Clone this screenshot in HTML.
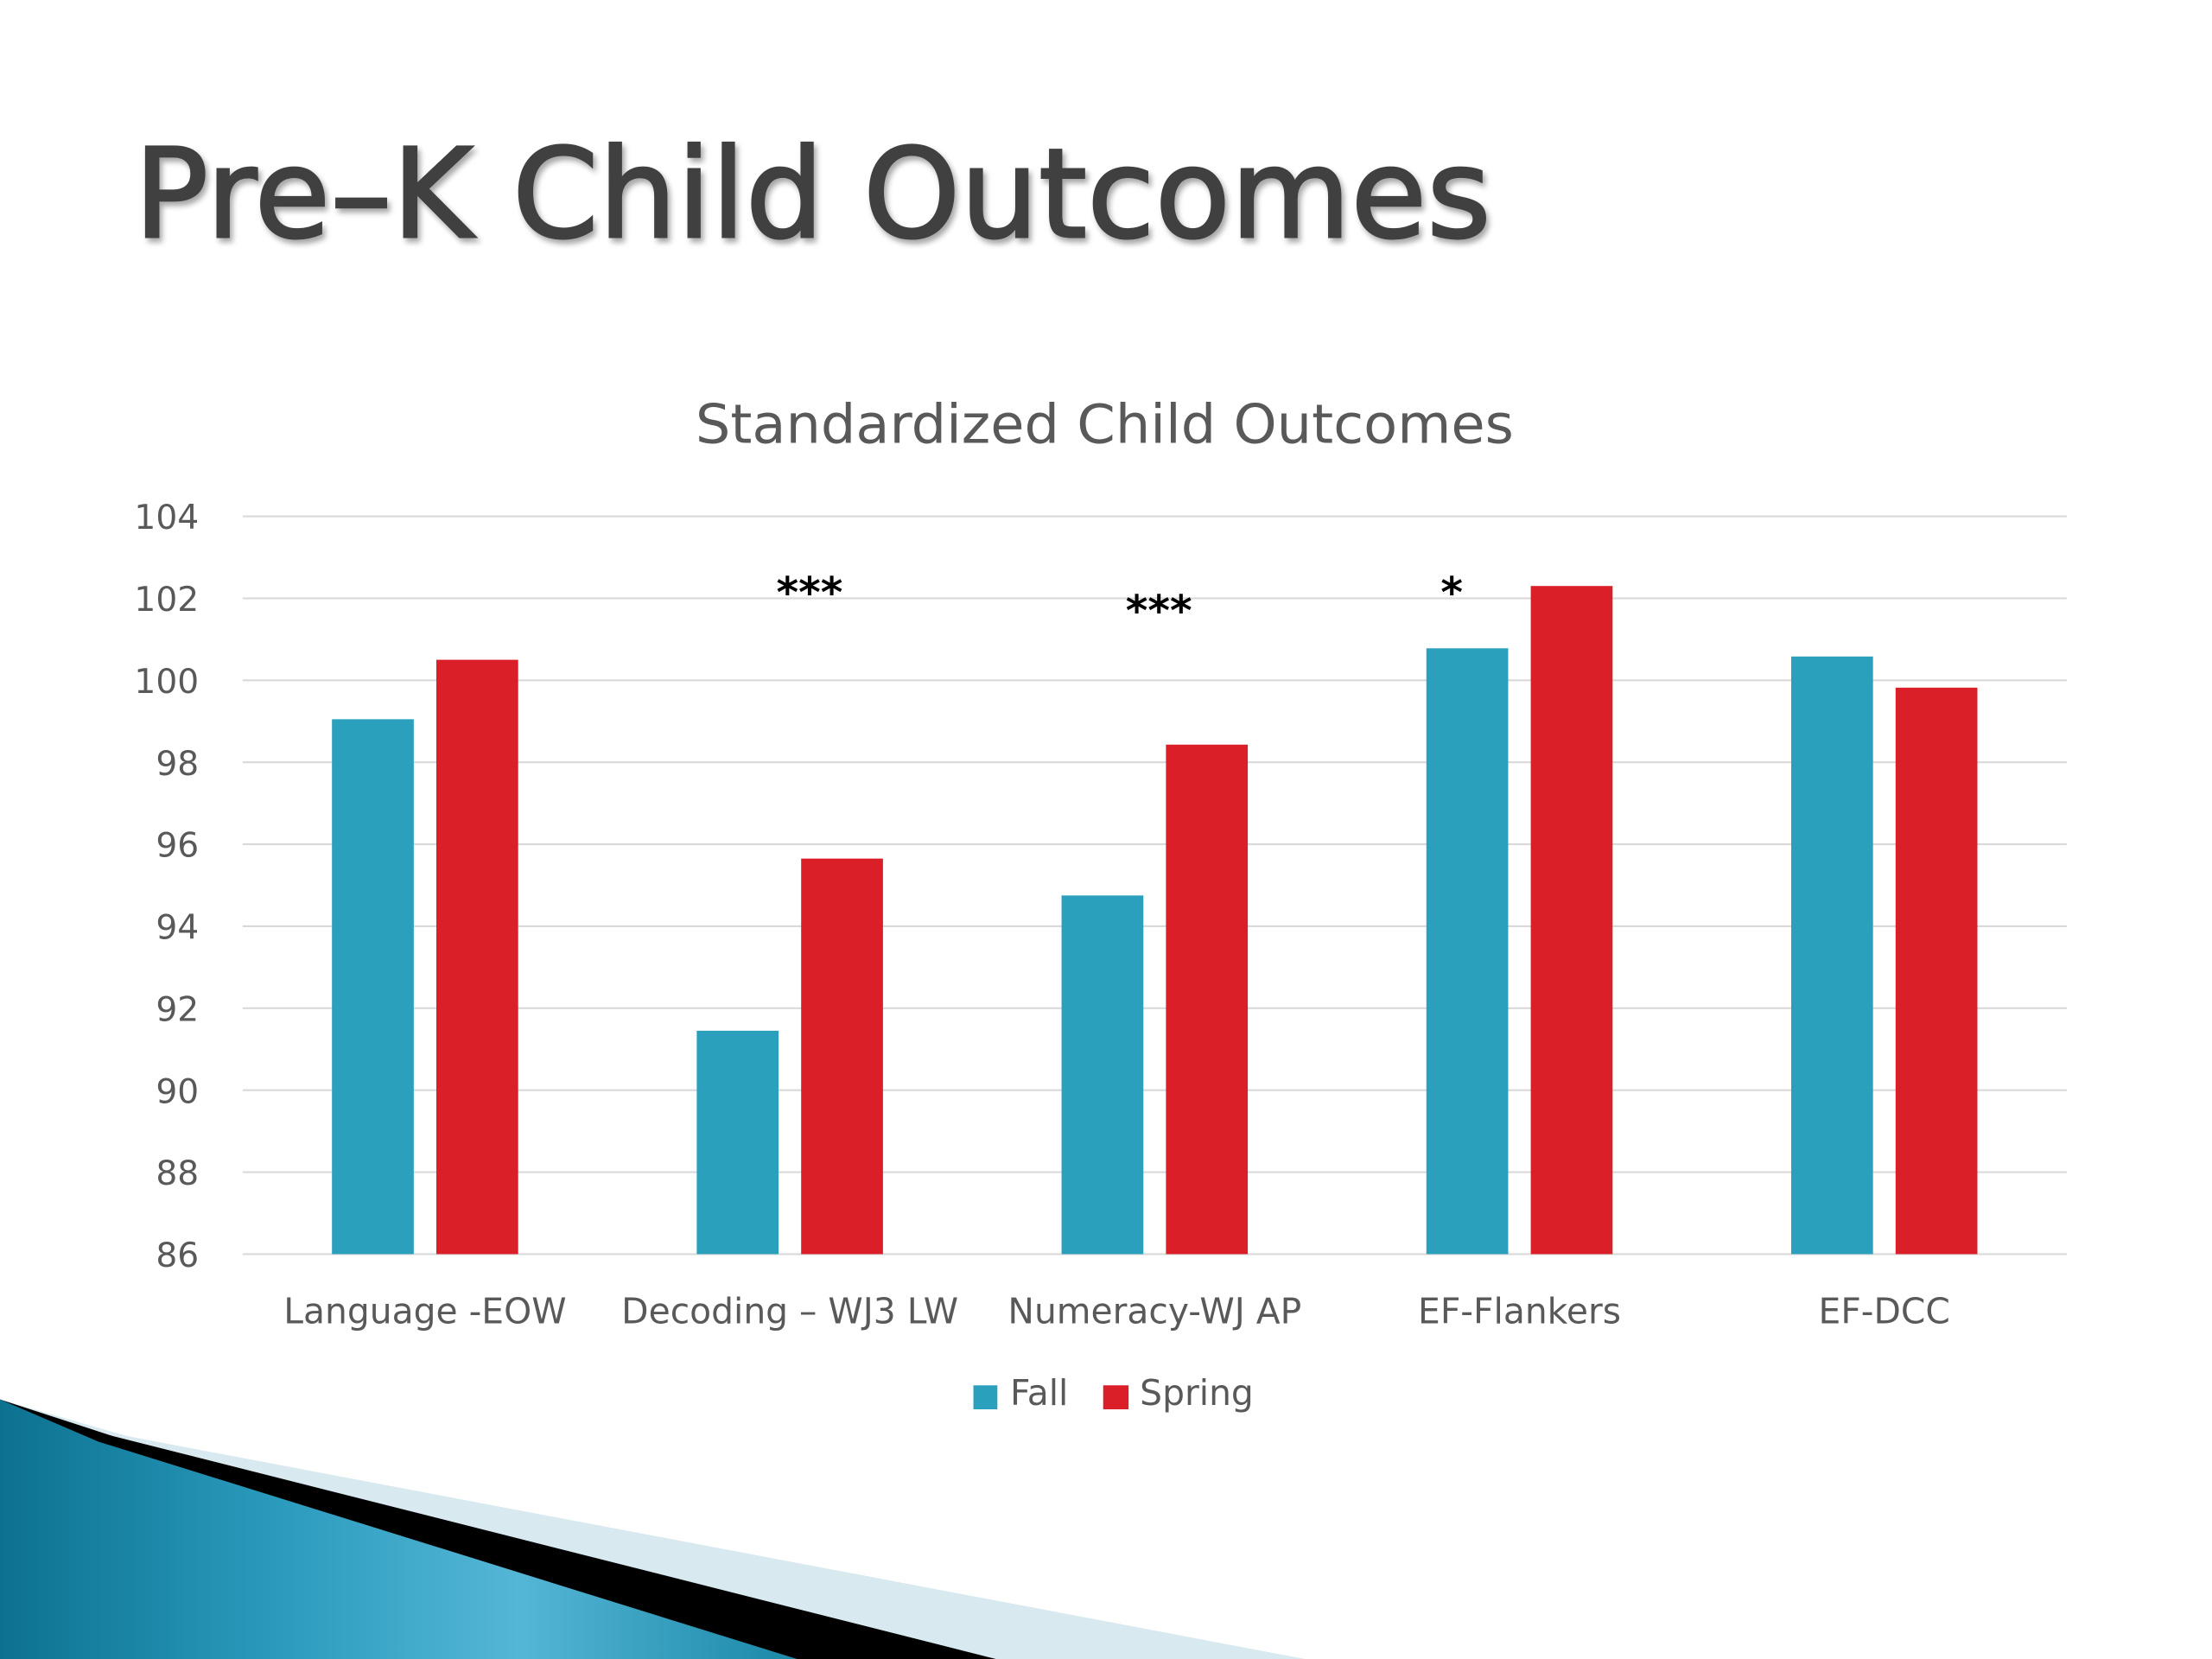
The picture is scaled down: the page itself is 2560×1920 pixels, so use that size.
<!DOCTYPE html>
<html><head><meta charset="utf-8"><style>
html,body{margin:0;padding:0;background:#fff;}
svg{display:block;}
</style></head><body>
<svg id="slide" width="2560" height="1920" viewBox="0 0 1568 1176" preserveAspectRatio="none" xmlns="http://www.w3.org/2000/svg">
<defs>
<linearGradient id="tealg" x1="0" y1="0" x2="1" y2="0">
<stop offset="0" stop-color="#0d7190"/><stop offset="0.35" stop-color="#2a9bbd"/><stop offset="0.65" stop-color="#55b6d6"/><stop offset="1" stop-color="#1b88a8"/>
</linearGradient>
<filter id="sh" x="-5%" y="-5%" width="110%" height="120%"><feDropShadow dx="2" dy="3" stdDeviation="2" flood-color="#000" flood-opacity="0.35"/></filter>
</defs>
<rect width="1568" height="1176" fill="#fff"/>
<g>
<polygon points="0,992 90,1018 925,1176 0,1176" fill="#d8e9f0"/>
<polygon points="0,992 80,1018 706,1176 0,1176" fill="#000"/>
<polygon points="0,992 70,1022 565,1176 0,1176" fill="url(#tealg)"/>
</g>
<text x="95" y="168" font-family="'DejaVu Sans', sans-serif" font-size="88" fill="#404040" stroke="#404040" stroke-width="1.5" filter="url(#sh)" textLength="962" lengthAdjust="spacingAndGlyphs">Pre–K Child Outcomes</text>
<text x="783" y="314" text-anchor="middle" font-family="'DejaVu Sans', sans-serif" font-size="38" fill="#595959" textLength="580" lengthAdjust="spacingAndGlyphs">Standardized Child Outcomes</text>
<g id="grid"></g>
<g id="yaxis"></g>
<g id="bars"></g>
<g id="xaxis"></g>
<g id="sig"></g>
<g>
<g>
<rect x="690" y="982" width="17" height="17" fill="#2ba0bc"/>
<text x="716" y="996" font-family="'DejaVu Sans', sans-serif" font-size="25" fill="#595959">Fall</text>
</g>
<g>
<rect x="782" y="982" width="18" height="17" fill="#da1f28"/>
<text x="808" y="996" font-family="'DejaVu Sans', sans-serif" font-size="25" fill="#595959">Spring</text>
</g>
</g>
</svg>
<script>
const categories = ["Language -EOW", "Decoding – WJ3 LW", "Numeracy-WJ AP", "EF-Flankers", "EF-DCC"];
const fallValues = [99.05, 91.45, 94.75, 100.78, 100.58];
const springValues = [100.5, 95.65, 98.43, 102.3, 99.82];
const yTicks = [86, 88, 90, 92, 94, 96, 98, 100, 102, 104];
const sigLabels = ["", "***", "***", "*", ""];
const sigValues = [null, 102.1, 101.65, 102.1, null];

const NS = "http://www.w3.org/2000/svg";
const plotL = 172, plotR = 1465, yTop = 366, yBot = 889, yMin = 86, yMax = 104;
const sigDx = [0, 14, 3, -48, 0];
function y(v){ return yBot - (v - yMin) / (yMax - yMin) * (yBot - yTop); }
const band = (plotR - plotL) / categories.length;
function xc(i){ return plotL + band * (i + 0.5); }
function mk(tag, attrs, parent){ const e = document.createElementNS(NS, tag); for (const k in attrs) e.setAttribute(k, attrs[k]); parent.appendChild(e); return e; }

const grid = document.getElementById('grid');
const yaxis = document.getElementById('yaxis');
yTicks.forEach(t => {
  const l = mk('line', {x1: plotL, x2: plotR, y1: y(t), y2: y(t), stroke: '#d9d9d9', 'stroke-width': 1.3}, grid);
  
  
  const tx = mk('text', {x: 141, y: y(t) + 9, 'text-anchor': 'end', 'font-family': "'DejaVu Sans', sans-serif", 'font-size': 24, fill: '#595959'}, yaxis);
  tx.textContent = t;
  
  
});

const bars = document.getElementById('bars');
const xaxis = document.getElementById('xaxis');
const sig = document.getElementById('sig');
const bw = 58, gap = 16;
categories.forEach((c, i) => {
  const cx = xc(i);
  const f = mk('rect', {x: cx - gap/2 - bw, y: y(fallValues[i]), width: bw, height: yBot - y(fallValues[i]), fill: '#2ba0bc'}, bars);
  
  
  const s = mk('rect', {x: cx + gap/2, y: y(springValues[i]), width: bw, height: yBot - y(springValues[i]), fill: '#da1f28'}, bars);
  
  
  const t = mk('text', {x: cx, y: 938, 'text-anchor': 'middle', 'font-family': "'DejaVu Sans', sans-serif", 'font-size': 25, fill: '#595959'}, xaxis);
  t.textContent = c;
  
  
  if (sigLabels[i]) {
    const m = mk('text', {x: cx + sigDx[i], y: y(sigValues[i]) + 9, 'text-anchor': 'middle', 'font-family': "'DejaVu Sans', sans-serif", 'font-size': 30, 'font-weight': 'bold', fill: '#000'}, sig);
    m.textContent = sigLabels[i];
    
    
  }
});
</script>
</body></html>
